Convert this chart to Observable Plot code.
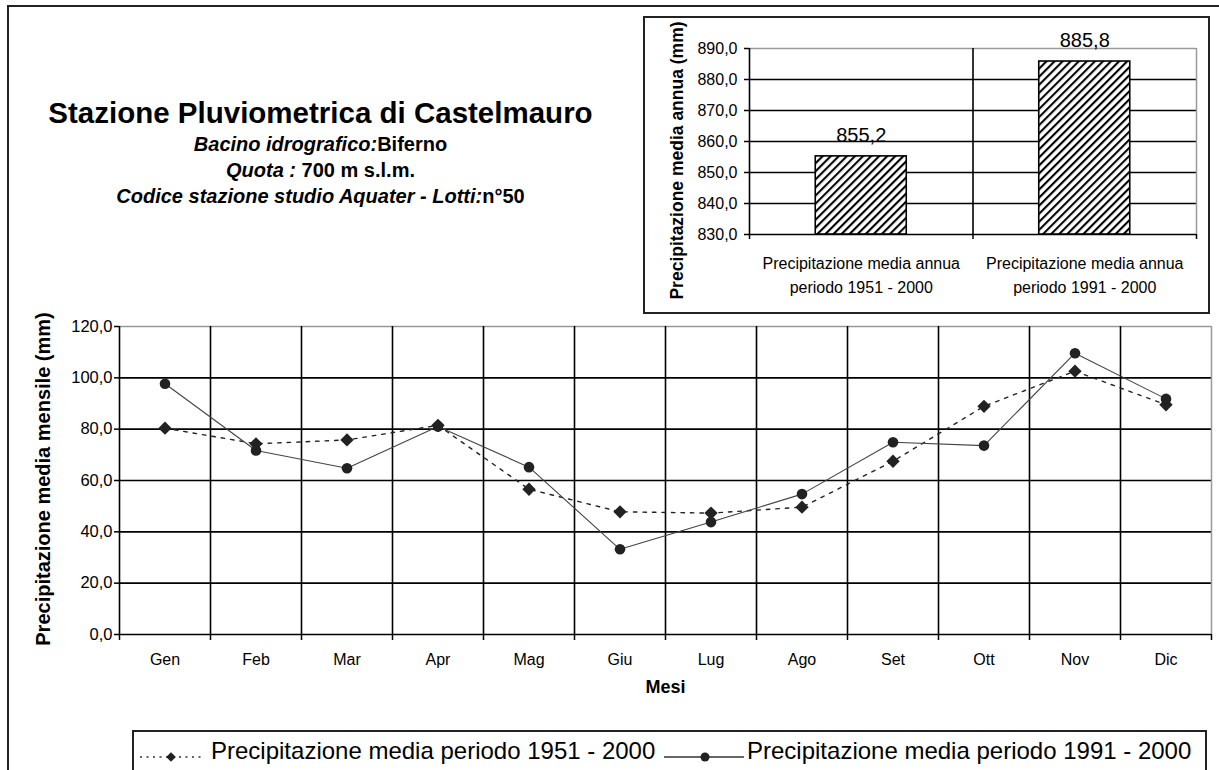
<!DOCTYPE html>
<html><head><meta charset="utf-8">
<script src="https://cdn.jsdelivr.net/npm/d3@7"></script>
<script src="https://cdn.jsdelivr.net/npm/@observablehq/plot@0.6"></script>
<style>
html,body{margin:0;padding:0;background:#fff;overflow:hidden;}
#root{position:relative;width:1219px;height:770px;overflow:hidden;font-family:"Liberation Sans",Arial,sans-serif;color:#000;background:#fff;}
.abs{position:absolute;}
#outer{left:7px;top:5px;width:1300px;height:900px;border-left:2px solid #222;border-top:2px solid #222;}
#insetBox{left:643px;top:16px;width:567px;height:298px;border:2px solid #222;box-sizing:border-box;}
#legendBox{left:132px;top:730px;width:1075px;height:100px;border:2px solid #222;box-sizing:border-box;}
.t{left:0;width:641px;text-align:center;font-weight:bold;white-space:nowrap;}
#title{top:96px;font-size:29.5px;line-height:34px;}
.sub{font-size:20px;line-height:26px;}
.sub i{font-style:italic;}
</style></head>
<body>
<div id="root">
  <div id="outer" class="abs"></div>
  <div id="title" class="abs t">Stazione Pluviometrica di Castelmauro</div>
  <div class="abs t sub" style="top:131px"><i>Bacino idrografico:</i>Biferno</div>
  <div class="abs t sub" style="top:157px"><i>Quota :</i> 700 m s.l.m.</div>
  <div class="abs t sub" style="top:183px"><i>Codice stazione studio Aquater - Lotti:</i>n°50</div>
  <div id="insetBox" class="abs"></div>
  <div id="inset" class="abs" style="left:645px;top:18px;"></div>
  <div id="main" class="abs" style="left:0;top:300px;"></div>
  <div id="legendBox" class="abs"></div>
  <div id="legend" class="abs" style="left:0;top:720px;"></div>
</div>
<script>
// ---- data ----
const months = ["Gen","Feb","Mar","Apr","Mag","Giu","Lug","Ago","Set","Ott","Nov","Dic"];
const rain1951 = [80.4, 74.3, 75.8, 81.5, 56.6, 47.8, 47.3, 49.6, 67.5, 88.9, 102.6, 89.5];
const rain1991 = [97.7, 71.7, 64.8, 81.0, 65.2, 33.2, 43.8, 54.7, 74.9, 73.6, 109.6, 91.8];
const monthlyTicks = [0, 20, 40, 60, 80, 100, 120];
const seriesNames = ["Precipitazione media periodo 1951 - 2000", "Precipitazione media periodo 1991 - 2000"];
const periodLabels = ["Precipitazione media annua\nperiodo 1951 - 2000", "Precipitazione media annua\nperiodo 1991 - 2000"];
const annualMeans = [855.2, 885.8];
const annualTicks = [830, 840, 850, 860, 870, 880, 890];

const FONT = '"Liberation Sans", Arial, sans-serif';
const fmt1 = d => d.toFixed(1).replace(".", ",");
const mid = d => d.i + 0.5;

const monthIdx = months.map((_, i) => i);
const rows1951 = months.map((m, i) => ({i, m, v: rain1951[i]}));
const rows1991 = months.map((m, i) => ({i, m, v: rain1991[i]}));

// ---- main chart ----
const main = Plot.plot({
  width: 1219, height: 410,
  marginLeft: 119, marginRight: 8, marginTop: 26, marginBottom: 76,
  x: {type: "linear", domain: [0, months.length], label: null},
  y: {domain: [0, 120], label: null},
  style: {fontFamily: FONT, fontSize: "16px", color: "#000", background: "transparent", overflow: "visible"},
  marks: [
    Plot.ruleY(monthlyTicks.slice(0, -1), {stroke: "#000", strokeWidth: 1.6}),
    Plot.ruleY(monthlyTicks.slice(-1), {stroke: "#999", strokeWidth: 1.5}),
    Plot.ruleX(monthIdx, {stroke: "#000", strokeWidth: 1.6}),
    Plot.ruleX([months.length], {stroke: "#999", strokeWidth: 1.5}),
    Plot.axisY({ticks: monthlyTicks, tickSize: 5, tickPadding: 2, tickFormat: fmt1, fontSize: 16.5, stroke: "#000", strokeWidth: 1.5, fill: "#000", label: null}),
    Plot.axisX({ticks: [...monthIdx, months.length], tickSize: 6, tickFormat: () => "", stroke: "#000", strokeWidth: 1.5, label: null}),
    Plot.axisX({ticks: monthIdx.map(i => i + 0.5), tickSize: 0, tickPadding: 19, tickFormat: v => months[Math.floor(v)], fontSize: 16, fill: "#000", label: null}),
    Plot.line(rows1951, {x: mid, y: "v", stroke: "#222", strokeWidth: 1.4, strokeDasharray: "3.5,6"}),
    Plot.line(rows1991, {x: mid, y: "v", stroke: "#444", strokeWidth: 1.1}),
    Plot.dot(rows1951, {x: mid, y: "v", symbol: "diamond2", r: 6, fill: "#222", stroke: "none"}),
    Plot.dot(rows1991, {x: mid, y: "v", r: 5.3, fill: "#222", stroke: "none"}),
    Plot.text(["Precipitazione media mensile (mm)"], {frameAnchor: "left", textAnchor: "middle", rotate: -90, dx: -76, dy: -1.5, fontSize: 20, fontWeight: "bold", fill: "#000"}),
    Plot.text(["Mesi"], {frameAnchor: "bottom", dy: 58, fontSize: 18, fontWeight: "bold", fill: "#000"})
  ]
});
document.getElementById("main").appendChild(main);

// ---- inset chart ----
const ann = annualMeans.map((v, i) => ({i, v, label: periodLabels[i]}));
const periodIdx = periodLabels.map((_, i) => i);
const barHalf = 0.2036;
const inset = Plot.plot({
  width: 563, height: 294,
  marginLeft: 104, marginRight: 12, marginTop: 30, marginBottom: 78,
  x: {type: "linear", domain: [0, periodLabels.length], label: null},
  y: {domain: [annualTicks[0], annualTicks[annualTicks.length - 1]], label: null},
  style: {fontFamily: FONT, fontSize: "16px", color: "#000", background: "transparent", overflow: "visible"},
  marks: [
    Plot.ruleY(annualTicks.slice(0, -1), {stroke: "#000", strokeWidth: 1.6}),
    Plot.ruleY(annualTicks.slice(-1), {stroke: "#999", strokeWidth: 1.5}),
    Plot.ruleX(periodIdx, {stroke: "#000", strokeWidth: 1.6}),
    Plot.ruleX([periodLabels.length], {stroke: "#999", strokeWidth: 1.5}),
    Plot.rect(ann, {x1: d => d.i + 0.5 - barHalf, x2: d => d.i + 0.5 + barHalf, y1: annualTicks[0], y2: "v", fill: "url(#hatch)", stroke: "#000", strokeWidth: 1.6}),
    Plot.text(ann, {x: mid, y: "v", text: d => fmt1(d.v), dy: -21, fontSize: 20, fill: "#000"}),
    Plot.axisY({ticks: annualTicks, tickSize: 5, tickPadding: 7, tickFormat: fmt1, fontSize: 16, stroke: "#000", strokeWidth: 1.5, fill: "#000", label: null}),
    Plot.axisX({ticks: [...periodIdx, periodLabels.length], tickSize: 5, tickFormat: () => "", stroke: "#000", strokeWidth: 1.5, label: null}),
    Plot.text(ann, {x: mid, text: "label", frameAnchor: "bottom", lineAnchor: "top", dy: 17.3, lineHeight: 1.5, fontSize: 16, fill: "#000"}),
    Plot.text(["Precipitazione media annua (mm)"], {frameAnchor: "left", textAnchor: "middle", rotate: -90, dx: -72.3, dy: 19, fontSize: 17.5, fontWeight: "bold", fill: "#000"})
  ]
});
const defs = d3.select(inset).insert("defs", ":first-child");
const pat = defs.append("pattern").attr("id", "hatch").attr("patternUnits", "userSpaceOnUse")
  .attr("width", 5.7).attr("height", 5.7).attr("patternTransform", "rotate(45)");
pat.append("rect").attr("width", 5.7).attr("height", 5.7).attr("fill", "#fff");
pat.append("rect").attr("width", 2.1).attr("height", 5.7).attr("fill", "#000");
document.getElementById("inset").appendChild(inset);

// ---- legend ----
const lg = d3.create("svg").attr("width", 1219).attr("height", 50)
  .style("font-family", FONT).style("overflow", "visible");
const ly = 37;
lg.append("line").attr("x1", 140).attr("x2", 204).attr("y1", ly).attr("y2", ly)
  .attr("stroke", "#333").attr("stroke-width", 1.3).attr("stroke-dasharray", "2,4.5");
lg.append("path").attr("d", d3.symbol(d3.symbolDiamond2, 60)()).attr("transform", `translate(171,${ly})`).attr("fill", "#222");
lg.append("text").attr("x", 211).attr("y", 39).attr("font-size", 24).text(seriesNames[0]);
lg.append("line").attr("x1", 664).attr("x2", 744).attr("y1", ly).attr("y2", ly)
  .attr("stroke", "#333").attr("stroke-width", 1.3);
lg.append("circle").attr("cx", 705).attr("cy", ly).attr("r", 4.5).attr("fill", "#222");
lg.append("text").attr("x", 747).attr("y", 39).attr("font-size", 24).text(seriesNames[1]);
document.getElementById("legend").appendChild(lg.node());
</script>
</body></html>
